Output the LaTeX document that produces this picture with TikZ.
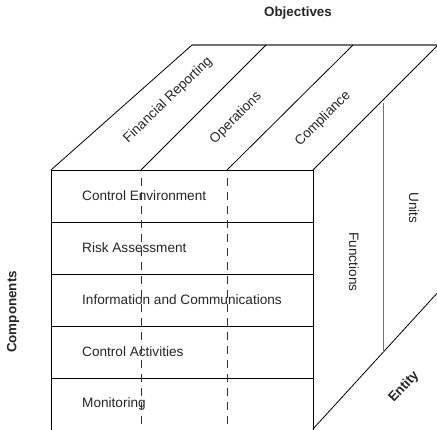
\documentclass[tikz,border=0pt]{standalone}
\usepackage{fontspec}
\setmainfont{Liberation Sans}
\begin{document}
\begin{tikzpicture}[x=1pt,y=-1pt,
  edge/.style={line width=0.8pt,black},
  backedge/.style={line width=1.6pt,black!55},
  unitline/.style={line width=1pt,black!55},
  dashline/.style={line width=0.8pt,black!80,dash pattern=on 8pt off 6pt},
  lbl/.style={font=\fontsize{13.6}{16}\selectfont,text=black!85,inner sep=0pt},
  blbl/.style={font=\fontsize{13.4}{16}\selectfont\bfseries,text=black!85,inner sep=0pt}]
\useasboundingbox (0,0) rectangle (437,429);
\clip (0,0) rectangle (437,429);
% corner coordinates
\coordinate (FTL) at (51,170);
\coordinate (FTR) at (313,170);
\coordinate (FBL) at (51,432);
\coordinate (FBR) at (313,432);
\coordinate (BTL) at (192,45);
\coordinate (BTR) at (445,45);
\coordinate (D1a) at (141,170);
\coordinate (D1b) at (266,45);
\coordinate (D2a) at (227,170);
\coordinate (D2b) at (353,45);
\coordinate (RT) at (444,39);
\coordinate (RB) at (440,290);
\coordinate (U1) at (383,103);
\coordinate (U2) at (383,352);
% top face
\draw[backedge] (BTL) -- (BTR);
\draw[edge] (FTL) -- (BTL);
\draw[edge] (D1a) -- (D1b);
\draw[edge] (D2a) -- (D2b);
\draw[edge] (FTR) -- (RT);
% front face
\draw[edge] (FBL) -- (FTL) -- (FTR) -- (FBR);
\foreach \y in {222,274,326,378}{\draw[edge] (51,\y) -- (313,\y);}
% right face
\draw[edge] (313,429) -- (RB);
\draw[unitline] (U1) -- (U2);
% labels
\node[blbl] (obj) at (298,13) {Objectives};
\node[blbl,rotate=90] (comp) at (13,312) {Components};
\node[blbl,rotate=47] (ent) at (404,387) {Entity};
\node[lbl,rotate=44] (fin) at (168,100) {Financial Reporting};
\node[lbl,rotate=45] (ops) at (236,118) {Operations};
\node[lbl,rotate=45] (cmp) at (323,119) {Compliance};
\node[lbl,rotate=-90] (fun) at (354,262) {Functions};
\node[lbl,rotate=-90] (uni) at (414,208) {Units};
\node[lbl,anchor=west] (ce) at (82,196) {Control Environment};
\node[lbl,anchor=west] (ra) at (82,248) {Risk Assessment};
\node[lbl,anchor=west] (ic) at (82,300) {Information and Communications};
\node[lbl,anchor=west] (ca) at (82,352) {Control Activities};
\node[lbl,anchor=west] (mo) at (82,404) {Monitoring};
% dashed lines
\draw[dashline] (141,178) -- (141,432);
\draw[dashline] (227,178) -- (227,432);
\end{tikzpicture}
\end{document}
